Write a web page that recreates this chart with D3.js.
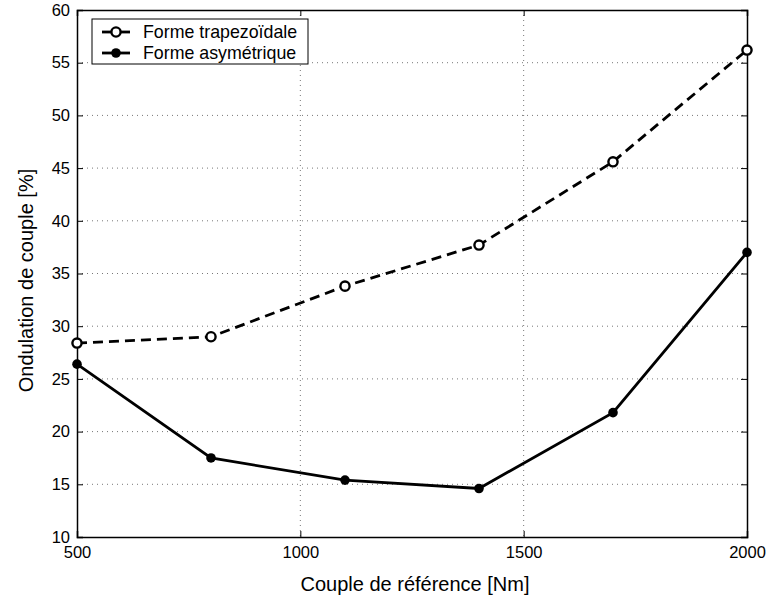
<!DOCTYPE html>
<html><head><meta charset="utf-8">
<script src="https://cdn.jsdelivr.net/npm/d3@7"></script>
<style>body{margin:0;background:#fff}text{font-family:"Liberation Sans",Arial,sans-serif}</style>
</head><body><svg id="c" width="768" height="602"></svg>
<script>
const couple = [500, 800, 1100, 1400, 1700, 2000];
const trapezoidale = [28.4, 29.0, 33.8, 37.7, 45.6, 56.2];
const asymetrique = [26.4, 17.5, 15.4, 14.6, 21.8, 37.0];
const xTicks = [500, 1000, 1500, 2000];
const yTicks = [10, 15, 20, 25, 30, 35, 40, 45, 50, 55, 60];
const seriesNames = ["Forme trapezoïdale", "Forme asymétrique"];

const svg = d3.select("#c");
const L = 77, R = 747, T = 10, B = 537;
const x = d3.scaleLinear().domain([500, 2000]).range([L, R]);
const y = d3.scaleLinear().domain([10, 60]).range([B, T]);

// grid
const g = svg.append("g");
g.selectAll(".gx").data(xTicks.slice(1, -1)).enter().append("line")
  .attr("x1", d => x(d)).attr("x2", d => x(d)).attr("y1", T).attr("y2", B)
  .attr("stroke", "#777").attr("stroke-width", 1).attr("stroke-dasharray", "1,4");
g.selectAll(".gy").data(yTicks.slice(1, -1)).enter().append("line")
  .attr("y1", d => y(d)).attr("y2", d => y(d)).attr("x1", L).attr("x2", R)
  .attr("stroke", "#777").attr("stroke-width", 1).attr("stroke-dasharray", "1,4");

// axes
const fs = "16.5px";
const fmt = d3.format("d");
const ax = svg.append("g").attr("transform", `translate(0,${B})`)
  .call(d3.axisBottom(x).tickValues(xTicks).tickSize(-6).tickPadding(9).tickFormat(fmt));
const axT = svg.append("g").attr("transform", `translate(0,${T})`)
  .call(d3.axisTop(x).tickValues(xTicks).tickSize(-6).tickFormat(""));
const ay = svg.append("g").attr("transform", `translate(${L},0)`)
  .call(d3.axisLeft(y).tickValues(yTicks).tickSize(-6).tickPadding(7).tickFormat(fmt));
const ayR = svg.append("g").attr("transform", `translate(${R},0)`)
  .call(d3.axisRight(y).tickValues(yTicks).tickSize(-6).tickFormat(""));
[ax, axT, ay, ayR].forEach(a => {
  a.select(".domain").attr("stroke", "#000").attr("stroke-width", 1.5);
  a.selectAll(".tick line").attr("stroke", "#000").attr("stroke-width", 1);
  a.selectAll("text").attr("fill", "#000").style("font-size", fs);
});

// lines
const line = d3.line().x((d, i) => x(couple[i])).y(d => y(d));
svg.append("path").datum(trapezoidale).attr("d", line).attr("fill", "none")
  .attr("stroke", "#000").attr("stroke-width", 2.8).attr("stroke-dasharray", "10,6");
svg.append("path").datum(asymetrique).attr("d", line).attr("fill", "none")
  .attr("stroke", "#000").attr("stroke-width", 2.8);
svg.selectAll(".mt").data(trapezoidale).enter().append("circle")
  .attr("cx", (d, i) => x(couple[i])).attr("cy", d => y(d)).attr("r", 4.6)
  .attr("fill", "#fff").attr("stroke", "#000").attr("stroke-width", 2.4);
svg.selectAll(".ma").data(asymetrique).enter().append("circle")
  .attr("cx", (d, i) => x(couple[i])).attr("cy", d => y(d)).attr("r", 4.8)
  .attr("fill", "#000");

// legend
const lg = svg.append("g");
lg.append("rect").attr("x", 92).attr("y", 19).attr("width", 216).attr("height", 45)
  .attr("fill", "#fff").attr("stroke", "#000").attr("stroke-width", 1);
[0, 1].forEach(i => {
  const yy = 32 + i * 21;
  lg.append("line").attr("x1", 102).attr("x2", 130).attr("y1", yy).attr("y2", yy)
    .attr("stroke", "#000").attr("stroke-width", 2.8);
  lg.append("circle").attr("cx", 116).attr("cy", yy).attr("r", i === 0 ? 4.6 : 4.8)
    .attr("fill", i === 0 ? "#fff" : "#000").attr("stroke", "#000").attr("stroke-width", i === 0 ? 2.4 : 0);
  lg.append("text").attr("x", 143).attr("y", yy + 6).text(seriesNames[i]).style("font-size", "17.8px");
});

// labels
svg.append("text").attr("x", (L + R) / 2 + 3).attr("y", 591).attr("text-anchor", "middle")
  .style("font-size", "20px").text("Couple de référence [Nm]");
svg.append("text").attr("transform", `translate(33,${(T + B) / 2 + 7}) rotate(-90)`).attr("text-anchor", "middle")
  .style("font-size", "20px").text("Ondulation de couple [%]");
</script></body></html>
